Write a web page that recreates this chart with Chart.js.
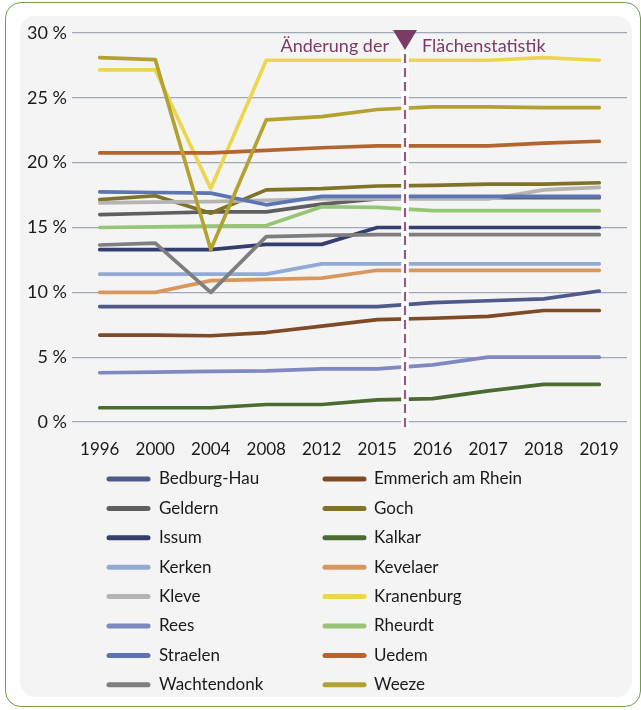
<!DOCTYPE html>
<html>
<head>
<meta charset="utf-8">
<script src="https://cdn.jsdelivr.net/npm/chart.js@4"></script>
<style>
  body { margin: 0; background: #fff; }
  #wrap { position: relative; width: 641px; height: 710px; overflow: hidden; }
  #frame { position: absolute; left: 5px; top: 2px; width: 636px; height: 705px;
    border: 1.5px solid #6f9e45; border-radius: 16px; box-sizing: border-box; }
  #panel { position: absolute; left: 20px; top: 16px; width: 612px; height: 681px;
    background: #f4f4f4; border-radius: 15px; }
  #area-graph { position: absolute; left: 0; top: 0; }
</style>
</head>
<body>
<div id="wrap">
  <div id="frame"></div>
  <div id="panel"></div>
  <canvas id="area-graph" width="641" height="710"></canvas>
</div>
<script>
const years = ["1996", "2000", "2004", "2008", "2012", "2015", "2016", "2017", "2018", "2019"];

const towns = ["Bedburg-Hau", "Emmerich am Rhein", "Geldern", "Goch", "Issum", "Kalkar",
  "Kerken", "Kevelaer", "Kleve", "Kranenburg", "Rees", "Rheurdt", "Straelen", "Uedem",
  "Wachtendonk", "Weeze"];

const colors = ["#4f5a8b", "#7f4a26", "#5f5f5f", "#807327", "#353e6f", "#4b6b31",
  "#93aad7", "#d9975e", "#b5b4b2", "#ecd64f", "#7f88c1", "#96c675", "#5d74b3", "#b4652f",
  "#7e7e7e", "#b3a231"];

// percent values per town
const bedburgHau  = [8.9, 8.9, 8.9, 8.9, 8.9, 8.9, 9.2, 9.35, 9.5, 10.1];
const emmerich    = [6.7, 6.7, 6.65, 6.9, 7.4, 7.9, 8.0, 8.15, 8.6, 8.6];
const geldern     = [16.0, 16.1, 16.2, 16.2, 16.8, 17.2, 17.3, 17.3, 17.3, 17.3];
const goch        = [17.15, 17.45, 16.1, 17.9, 18.0, 18.2, 18.25, 18.35, 18.35, 18.45];
const issum       = [13.3, 13.3, 13.3, 13.7, 13.7, 15.0, 15.0, 15.0, 15.0, 15.0];
const kalkar      = [1.1, 1.1, 1.1, 1.35, 1.35, 1.7, 1.8, 2.4, 2.9, 2.9];
const kerken      = [11.4, 11.4, 11.4, 11.4, 12.2, 12.2, 12.2, 12.2, 12.2, 12.2];
const kevelaer    = [10.0, 10.0, 10.9, 11.0, 11.1, 11.7, 11.7, 11.7, 11.7, 11.7];
const kleve       = [16.9, 16.95, 17.0, 17.1, 17.2, 17.2, 17.2, 17.2, 17.9, 18.1];
const kranenburg  = [27.15, 27.15, 18.0, 27.9, 27.9, 27.9, 27.9, 27.9, 28.1, 27.9];
const rees        = [3.8, 3.85, 3.9, 3.95, 4.1, 4.1, 4.4, 5.0, 5.0, 5.0];
const rheurdt     = [15.0, 15.05, 15.1, 15.15, 16.6, 16.55, 16.3, 16.3, 16.3, 16.3];
const straelen    = [17.75, 17.7, 17.65, 16.75, 17.4, 17.4, 17.4, 17.4, 17.4, 17.4];
const uedem       = [20.75, 20.75, 20.75, 20.95, 21.15, 21.3, 21.3, 21.3, 21.5, 21.65];
const wachtendonk = [13.65, 13.8, 10.0, 14.3, 14.4, 14.45, 14.45, 14.45, 14.45, 14.45];
const weeze       = [28.1, 27.95, 13.3, 23.3, 23.55, 24.1, 24.3, 24.3, 24.25, 24.25];

const series = [bedburgHau, emmerich, geldern, goch, issum, kalkar, kerken, kevelaer,
  kleve, kranenburg, rees, rheurdt, straelen, uedem, wachtendonk, weeze];

const yTicks = [0, 5, 10, 15, 20, 25, 30];
const breakAfter = "2015"; // Änderung der Flächenstatistik between 2015 and 2016

const FONT = "Lato, 'Open Sans', sans-serif";

// dashed marker for the change of statistics
const breakPlugin = {
  id: "breakLine",
  afterDatasetsDraw(chart) {
    const { ctx, chartArea, scales } = chart;
    const i = years.indexOf(breakAfter);
    const x = (scales.x.getPixelForValue(i) + scales.x.getPixelForValue(i + 1)) / 2;
    ctx.save();
    ctx.fillStyle = "#ffffff";
    ctx.fillRect(x - 3.8, 50, 7.6, chartArea.bottom + 5 - 50);
    ctx.strokeStyle = "#9a5985";
    ctx.lineWidth = 2.2;
    ctx.setLineDash([9, 5]);
    ctx.beginPath();
    ctx.moveTo(x, 54);
    ctx.lineTo(x, chartArea.bottom + 5);
    ctx.stroke();
    ctx.setLineDash([]);
    ctx.fillStyle = "#7b3a66";
    ctx.beginPath();
    ctx.moveTo(x - 12, 30);
    ctx.lineTo(x + 12, 30);
    ctx.lineTo(x, 50);
    ctx.closePath();
    ctx.fill();
    ctx.font = "18px " + FONT;
    ctx.textBaseline = "alphabetic";
    ctx.textAlign = "right";
    ctx.fillText("Änderung der", x - 16, 52);
    ctx.textAlign = "left";
    ctx.fillText("Flächenstatistik", x + 17, 52);
    ctx.restore();
  }
};

// two-column legend below the chart
const legendPlugin = {
  id: "twoColLegend",
  afterDraw(chart) {
    const ctx = chart.ctx;
    ctx.save();
    ctx.font = "17px " + FONT;
    ctx.textBaseline = "middle";
    ctx.textAlign = "left";
    chart.data.datasets.forEach((ds, i) => {
      const col = i % 2, row = Math.floor(i / 2);
      const sx = col ? 323 : 107;
      const tx = col ? 374 : 159;
      const y = 479 + row * 29.4;
      ctx.strokeStyle = ds.borderColor;
      ctx.lineWidth = 5;
      ctx.lineCap = "round";
      ctx.beginPath();
      ctx.moveTo(sx + 2, y);
      ctx.lineTo(sx + 41, y);
      ctx.stroke();
      ctx.fillStyle = "#1a1a1a";
      ctx.fillText(ds.label, tx, y);
    });
    ctx.restore();
  }
};

const ctx = document.getElementById("area-graph");

new Chart(ctx, {
  type: "line",
  data: {
    labels: years,
    datasets: towns.map((name, i) => ({
      label: name,
      data: series[i],
      borderColor: colors[i],
      backgroundColor: colors[i],
      borderWidth: 3.7,
      pointRadius: 0,
      tension: 0,
      borderCapStyle: "round",
      borderJoinStyle: "round",
      order: towns.length - i, // later towns drawn on top
    })),
  },
  options: {
    responsive: false,
    animation: false,
    layout: { padding: { left: 0, top: 33, right: 14, bottom: 253 } },
    plugins: {
      legend: { display: false },
      tooltip: { enabled: false },
    },
    scales: {
      x: {
        offset: true,
        grid: { display: false },
        border: { display: false },
        ticks: { color: "#1a1a1a", font: { family: FONT, size: 17 }, padding: 9, maxRotation: 0 },
        afterFit(scale) { scale.height = 35; },
      },
      y: {
        min: 0,
        max: 30,
        afterBuildTicks(scale) { scale.ticks = yTicks.map(v => ({ value: v })); },
        grid: { color: "#a0a7b8", lineWidth: 1.3, drawTicks: false },
        border: { display: false },
        ticks: {
          color: "#1a1a1a",
          font: { family: FONT, size: 18 },
          padding: 5,
          callback: (v) => v + " %",
        },
        afterFit(scale) { scale.width = 72; },
      },
    },
  },
  plugins: [breakPlugin, legendPlugin],
});
</script>
</body>
</html>
